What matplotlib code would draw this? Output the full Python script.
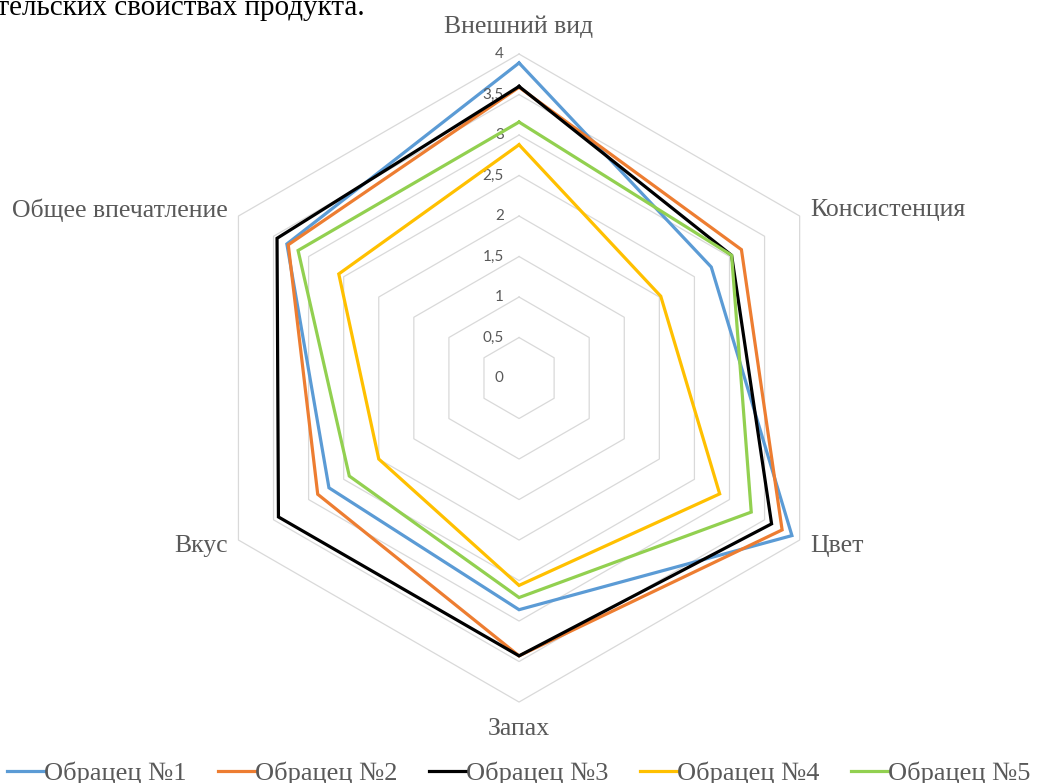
import matplotlib.pyplot as plt
import numpy as np

# categories (clockwise from top)
categories = ['Внешний вид', 'Консистенция', 'Цвет', 'Запах', 'Вкус', 'Общее впечатление']
series_names = ['Обрацец №1', 'Обрацец №2', 'Обрацец №3', 'Обрацец №4', 'Обрацец №5']

sample1 = [3.89, 2.74, 3.89, 2.86, 2.71, 3.31]
sample2 = [3.59, 3.17, 3.75, 3.43, 2.87, 3.29]
sample3 = [3.60, 3.03, 3.60, 3.43, 3.43, 3.45]
sample4 = [2.88, 2.02, 2.86, 2.56, 2.00, 2.57]
sample5 = [3.16, 3.03, 3.31, 2.71, 2.42, 3.15]

grid_levels = [0.5, 1, 1.5, 2, 2.5, 3, 3.5, 4]
tick_levels = [0, 0.5, 1, 1.5, 2, 2.5, 3, 3.5, 4]

colors = ['#5B9BD5', '#ED7D31', '#000000', '#FFC000', '#92D050']
text_gray = '#595959'
serif = 'Liberation Serif'

fig = plt.figure(figsize=(10.38, 7.83), dpi=100)
ax = fig.add_axes([0.1879, 0.1034, 0.6243, 0.8276], projection='polar')
ax.set_theta_offset(np.pi / 2)
ax.set_theta_direction(-1)

n = len(categories)
angles = np.linspace(0, 2 * np.pi, n, endpoint=False)
closed = np.append(angles, angles[0])

# hexagonal grid
for lvl in grid_levels:
    ax.plot(closed, [lvl] * (n + 1), color='#D9D9D9', lw=0.9, zorder=1, clip_on=False)

# series
all_series = [sample1, sample2, sample3, sample4, sample5]
for i, (vals, name) in enumerate(zip(all_series, series_names)):
    ax.plot(closed, vals + vals[:1], color=colors[i], lw=2.3, label=name,
            zorder=3 + i, clip_on=False, solid_joinstyle='miter')

ax.set_ylim(0, 4)
ax.set_xticks([])
ax.set_yticks([])
ax.grid(False)
ax.spines['polar'].set_visible(False)
ax.patch.set_alpha(0)

# radial tick labels
for lvl in tick_levels:
    lab = f'{lvl:g}'.replace('.', ',')
    ax.annotate(lab, xy=(0, lvl), xytext=(-11, 0), textcoords='offset points',
                ha='right', va='center', fontsize=11, color=text_gray,
                family='Lato', annotation_clip=False)

# category labels
fs_cat = 18.5
for ang, cat in zip(angles, categories):
    deg = np.degrees(ang) % 360
    if deg < 1:
        ax.text(ang, 4.2, cat, ha='center', va='bottom', fontsize=fs_cat, color=text_gray, family=serif)
    elif abs(deg - 180) < 1:
        ax.text(ang, 4.2, cat, ha='center', va='top', fontsize=fs_cat, color=text_gray, family=serif)
    elif deg < 180:
        ax.text(ang, 4.15, cat, ha='left', va='center', fontsize=fs_cat, color=text_gray, family=serif)
    else:
        ax.text(ang, 4.15, cat, ha='right', va='center', fontsize=fs_cat, color=text_gray, family=serif)

# cut-off document text above the chart
fig.text(365 / 1038, 1 - 15 / 783, 'потребительских свойствах продукта.', ha='right',
         va='baseline', fontsize=21, color='black', family=serif)

fig.legend(loc='center', bbox_to_anchor=(0.5, 1 - 773 / 783), ncol=5, frameon=False,
           prop={'family': serif, 'size': 19}, labelcolor=text_gray,
           handlelength=1.4, handletextpad=0.0, columnspacing=1.2,
           borderpad=0, borderaxespad=0)

fig.savefig('out.png', dpi=100)
